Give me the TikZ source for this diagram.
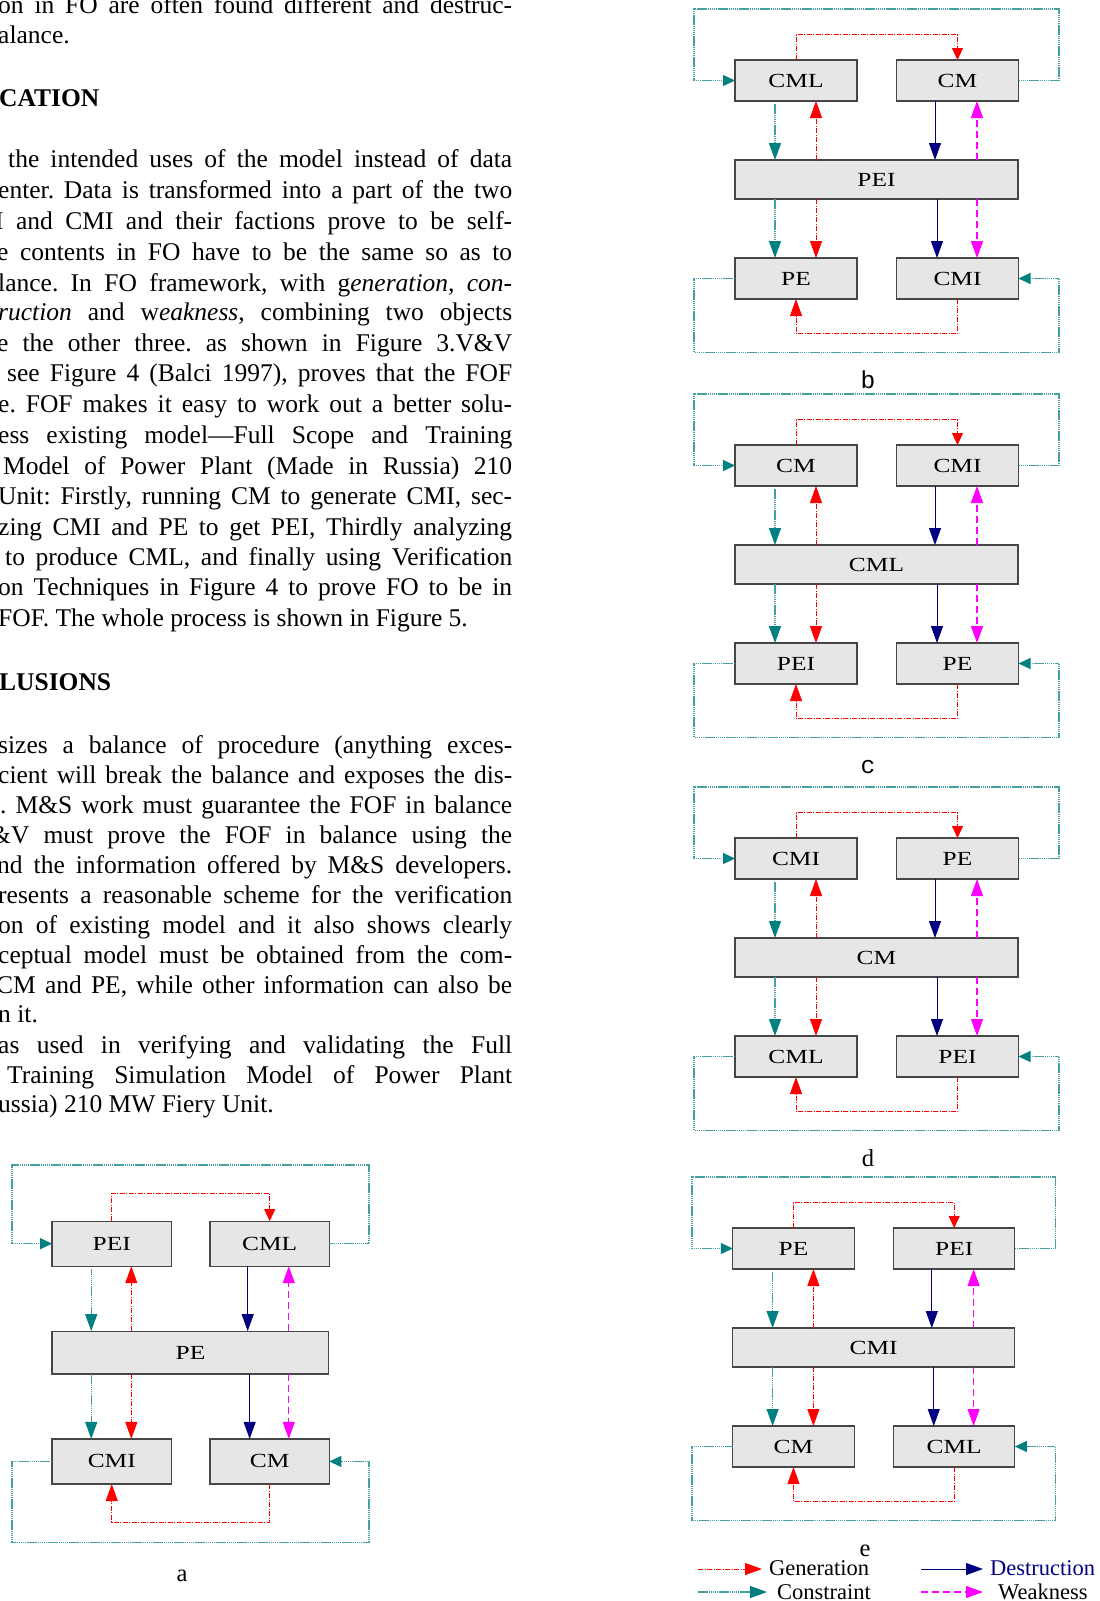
\documentclass[tikz,border=0pt]{standalone}
\usepackage{fontspec}
\setmainfont{Liberation Serif}
\newfontfamily\monofam{Liberation Mono}
\usepackage{graphicx}
\usetikzlibrary{arrows.meta,calc}
\definecolor{consc}{RGB}{0,128,128}
\definecolor{consline}{RGB}{70,160,160}
\definecolor{genc}{RGB}{255,0,0}
\definecolor{desc}{RGB}{0,0,128}
\definecolor{weakc}{RGB}{255,0,255}
\definecolor{boxfill}{RGB}{230,230,230}
\definecolor{boxline}{RGB}{70,70,70}
\newcommand\bodyfont{\fontsize{25.5pt}{30pt}\selectfont}
\newcommand\labfont{\fontsize{24.5pt}{26pt}\selectfont}
\newcommand\legfont{\fontsize{22.5pt}{24pt}\selectfont}
\newcommand\boxlab[1]{\scalebox{1.27}[1]{\fontsize{20pt}{20pt}\selectfont #1}}
\frenchspacing
\tikzset{
  txt/.style={anchor=base west, inner sep=0pt, font=\bodyfont},
  fofbox/.style={draw=boxline, fill=boxfill, line width=1.2pt, inner sep=0pt, outer sep=0pt},
  lcons/.style={draw=consline, line width=1.1pt, dash pattern=on 1.5pt off 0.6pt},
  lgen/.style={draw=genc, line width=0.9pt, dash pattern=on 5pt off 1.5pt on 1pt off 1.5pt},
  ldes/.style={draw=desc, line width=1pt},
  lweak/.style={draw=weakc, line width=1.2pt, dash pattern=on 7pt off 4pt},
  arrbig/.style={-{Triangle[length=17pt,width=12pt]}},
  arrsmall/.style={-{Triangle[length=12pt,width=11pt]}},
  arrbigc/.style={-{Triangle[length=17pt,width=12pt,color=consc]}},
  arrsmallc/.style={-{Triangle[length=12pt,width=11pt,color=consc]}},
}
\newcommand\fofdiag[7]{%
  \pgfmathsetmacro\bwd{122*\sx}%
  \pgfmathsetmacro\mwd{283*\sx}%
  \pgfmathsetmacro\bht{41*\sy}%
  \pgfmathsetmacro\mht{39*\sy}%
  \node[fofbox, minimum width=\bwd pt, minimum height=\bht pt] (#1tl) at ({\ox+102*\sx},{\oy+71.5*\sy}) {\boxlab{#2}};
  \node[fofbox, minimum width=\bwd pt, minimum height=\bht pt] (#1tr) at ({\ox+263.5*\sx},{\oy+71.5*\sy}) {\boxlab{#3}};
  \node[fofbox, minimum width=\mwd pt, minimum height=\mht pt] (#1mid) at ({\ox+182.5*\sx},{\oy+170.5*\sy}) {\boxlab{#4}};
  \node[fofbox, minimum width=\bwd pt, minimum height=\bht pt] (#1bl) at ({\ox+102*\sx},{\oy+269.5*\sy}) {\boxlab{#5}};
  \node[fofbox, minimum width=\bwd pt, minimum height=\bht pt] (#1br) at ({\ox+263.5*\sx},{\oy+269.5*\sy}) {\boxlab{#6}};
  \coordinate (#1xT) at ({\ox+81*\sx},0);
  \coordinate (#1xR) at ({\ox+122*\sx},0);
  \coordinate (#1xBa) at ({\ox+241*\sx},0);
  \coordinate (#1xBb) at ({\ox+243*\sx},0);
  \coordinate (#1xM) at ({\ox+283*\sx},0);
  \coordinate (#1yRT) at (0,{\oy+25.5*\sy});
  \coordinate (#1yRB) at (0,{\oy+324.5*\sy});
  \coordinate (#1cLT) at ({\ox},{\oy});
  \coordinate (#1cRT) at ({\ox+365*\sx},{\oy});
  \coordinate (#1cLB) at ({\ox},{\oy+343.5*\sy});
  \coordinate (#1cRB) at ({\ox+365*\sx},{\oy+343.5*\sy});
  % outer constraint loops
  \draw[lcons, arrsmallc] (#1tr.east) -| (#1cRT) -| (#1cLT |- #1tl.west) -- (#1tl.west);
  \draw[lcons, arrsmallc] (#1bl.west) -| (#1cLB) -- (#1cRB) |- (#1br.east);
  % generation loops
  \draw[lgen, arrsmall] (#1tl.north) -- (#1tl.north |- #1yRT) -| (#1tr.north);
  \draw[lgen, arrbig] (#1br.south) -- (#1br.south |- #1yRB) -| (#1bl.south);
  % upper verticals
  \draw[lcons, arrbigc, shorten <=3pt] (#1tl.south -| #1xT) -- (#1mid.north -| #1xT);
  \draw[lgen, arrbig] (#1mid.north -| #1xR) -- (#1tl.south -| #1xR);
  \draw[ldes, arrbig] (#1tr.south -| #1xBa) -- (#1mid.north -| #1xBa);
  \draw[lweak, arrbig] (#1mid.north -| #1xM) -- (#1tr.south -| #1xM);
  % lower verticals
  \draw[lcons, arrbigc] (#1mid.south -| #1xT) -- (#1bl.north -| #1xT);
  \draw[lgen, arrbig] (#1mid.south -| #1xR) -- (#1bl.north -| #1xR);
  \draw[ldes, arrbig] (#1mid.south -| #1xBb) -- (#1br.north -| #1xBb);
  \draw[lweak, arrbig] (#1mid.south -| #1xM) -- (#1br.north -| #1xM);
  \node[anchor=base, inner sep=0pt] (#1lab) at ({\ox+174*\sx},{\oy+379*\sy}) {#7};
}
\begin{document}
\begin{tikzpicture}[x=1pt,y=-1pt]
\fill[white] (0,0) rectangle (1100,1601);
\useasboundingbox (0,0) rectangle (1100,1601);

% ---------- left column text ----------
\node[txt] (t01) at (-2,13) {\makebox[514pt][s]{on in FO are often found different and destruc-}};
\node[txt] (t02) at (-2,43) {alance.};
\node[txt, font=\bodyfont\bfseries] (h1) at (-1,106) {CATION};
\node[txt] (t03) at (8,167) {\makebox[504pt][s]{the intended uses of the model instead of data}};
\node[txt] (t04) at (-2,198) {\makebox[514pt][s]{enter. Data is transformed into a part of the two}};
\node[txt] (t05) at (-5,229) {\makebox[517pt][s]{I and CMI and their factions prove to be self-}};
\node[txt] (t06) at (-3,260) {\makebox[515pt][s]{e contents in FO have to be the same so as to}};
\node[txt] (t07) at (-2,291) {\makebox[514pt][s]{lance. In FO framework, with g\textit{eneration, con-}}};
\node[txt] (t08) at (-2,320) {\makebox[514pt][s]{\textit{ruction} and w\textit{eakness}, combining two objects}};
\node[txt] (t09) at (-3,351) {\makebox[515pt][s]{e the other three. as shown in Figure 3.V\&V}};
\node[txt] (t10) at (7,381) {\makebox[505pt][s]{see Figure 4 (Balci 1997), proves that the FOF}};
\node[txt] (t11) at (-2,412) {\makebox[514pt][s]{e. FOF makes it easy to work out a better solu-}};
\node[txt] (t12) at (-2,443) {\makebox[514pt][s]{ess existing model—Full Scope and Training}};
\node[txt] (t13) at (3,474) {\makebox[509pt][s]{Model of Power Plant (Made in Russia) 210}};
\node[txt] (t14) at (-2,504) {\makebox[514pt][s]{Unit: Firstly, running CM to generate CMI, sec-}};
\node[txt] (t15) at (-2,535) {\makebox[514pt][s]{zing CMI and PE to get PEI, Thirdly analyzing}};
\node[txt] (t16) at (5,565) {\makebox[507pt][s]{to produce CML, and finally using Verification}};
\node[txt] (t17) at (-2,595) {\makebox[514pt][s]{on Techniques in Figure 4 to prove FO to be in}};
\node[txt] (t18) at (-2,626) {FOF. The whole process is shown in Figure 5.};
\node[txt, font=\bodyfont\bfseries] (h2) at (-1,690) {LUSIONS};
\node[txt] (t19) at (-2,753) {\makebox[514pt][s]{sizes a balance of procedure (anything exces-}};
\node[txt] (t20) at (-2,783) {\makebox[514pt][s]{cient will break the balance and exposes the dis-}};
\node[txt] (t21) at (0,813) {\makebox[512pt][s]{. M\&S work must guarantee the FOF in balance}};
\node[txt] (t22) at (-9,843) {\makebox[521pt][s]{\&V must prove the FOF in balance using the}};
\node[txt] (t23) at (-3,873) {\makebox[515pt][s]{nd the information offered by M\&S developers.}};
\node[txt] (t24) at (-2,903) {\makebox[514pt][s]{resents a reasonable scheme for the verification}};
\node[txt] (t25) at (-2,933) {\makebox[514pt][s]{on of existing model and it also shows clearly}};
\node[txt] (t26) at (-2,963) {\makebox[514pt][s]{ceptual model must be obtained from the com-}};
\node[txt] (t27) at (-4,993) {\makebox[516pt][s]{CM and PE, while other information can also be}};
\node[txt] (t28) at (-2,1022) {n it.};
\node[txt] (t29) at (-2,1053) {\makebox[514pt][s]{as used in verifying and validating the Full}};
\node[txt] (t30) at (7,1083) {\makebox[505pt][s]{Training Simulation Model of Power Plant}};
\node[txt] (t31) at (-2,1112) {ussia) 210 MW Fiery Unit.};

% ---------- diagrams ----------
\def\ox{12}\def\oy{1165}\def\sx{0.978}\def\sy{1.10}
\fofdiag{a}{PEI}{CML}{PE}{CMI}{CM}{\labfont a}
\def\ox{694}\def\oy{9}\def\sx{1}\def\sy{1}
\fofdiag{b}{CML}{CM}{PEI}{PE}{CMI}{\labfont\monofam b}
\def\ox{694}\def\oy{394}\def\sx{1}\def\sy{1}
\fofdiag{c}{CM}{CMI}{CML}{PEI}{PE}{\labfont\monofam c}
\def\ox{694}\def\oy{787}\def\sx{1}\def\sy{1}
\fofdiag{d}{CMI}{PE}{CM}{CML}{PEI}{\labfont d}
\def\ox{692}\def\oy{1177}\def\sx{0.995}\def\sy{1}
\fofdiag{e}{PE}{PEI}{CMI}{CM}{CML}{\labfont e}

% ---------- legend ----------
\coordinate (lg1a) at (698,1569); \coordinate (lg1b) at (762,1569);
\coordinate (lg2a) at (698,1592); \coordinate (lg2b) at (767,1592);
\coordinate (lg3a) at (921,1569); \coordinate (lg3b) at (983,1569);
\coordinate (lg4a) at (921,1592); \coordinate (lg4b) at (983,1592);
\draw[lgen, arrbig] (lg1a) -- (lg1b);
\draw[lcons, arrbigc] (lg2a) -- (lg2b);
\draw[ldes, arrbig] (lg3a) -- (lg3b);
\draw[lweak, arrbig] (lg4a) -- (lg4b);
\node[anchor=base west, inner sep=0pt, font=\legfont] (lg1t) at (769,1575) {Generation};
\node[anchor=base west, inner sep=0pt, font=\legfont] (lg2t) at (777,1599) {Constraint};
\node[anchor=base west, inner sep=0pt, font=\legfont, text=desc] (lg3t) at (990,1575) {Destruction};
\node[anchor=base west, inner sep=0pt, font=\legfont] (lg4t) at (998,1599) {Weakness};
\end{tikzpicture}
\end{document}
